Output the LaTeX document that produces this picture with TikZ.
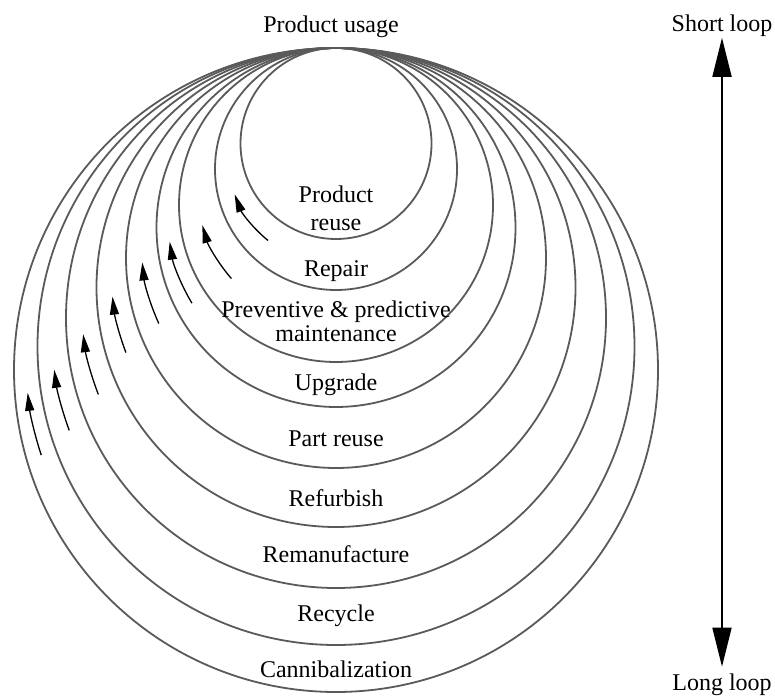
\documentclass[tikz,border=0pt]{standalone}
\usepackage{fontspec}
\setmainfont{Liberation Serif}
\usetikzlibrary{arrows.meta}

\definecolor{ringgray}{HTML}{5A5A5A}

\tikzset{
  ring/.style={draw=ringgray, line width=1.8pt},
  flow/.style={line width=1.3pt, -{Triangle[length=18pt,width=9pt]}},
  looptext/.style={font=\fontsize{24}{28}\selectfont, anchor=base, inner sep=0.5pt, align=center},
  loopscale/.style={line width=1.8pt, {Triangle[length=39pt,width=19pt]}-{Triangle[length=39pt,width=19pt]}, shorten >=6pt}
}

\begin{document}
\begin{tikzpicture}[x=1pt,y=1pt]
  \useasboundingbox (0,0) rectangle (775,695);

  % nested loops, all touching at the top (336,647)
  \draw[ring] (336,551.5) circle (95.5);
  \draw[ring] (336,526) circle (121);
  \draw[ring] (336,490) circle (157);
  \draw[ring] (336,467.5) circle (179.5);
  \draw[ring] (336,437) circle (210);
  \draw[ring] (336,407.5) circle (239.5);
  \draw[ring] (336,377) circle (270);
  \draw[ring] (336,348.5) circle (298.5);
  \draw[ring] (336,325) circle (322);

  % flow arrows between the loops
  \draw[flow] (336,538.75) ++(231.1:108.25) arc[start angle=231.1, end angle=200.6, radius=108.25];
  \draw[flow] (336,508) ++(221.2:139) arc[start angle=221.2, end angle=195.9, radius=139];
  \draw[flow] (336,478.75) ++(211.1:168.25) arc[start angle=211.1, end angle=188.7, radius=168.25];
  \draw[flow] (336,452.25) ++(204.5:194.75) arc[start angle=204.5, end angle=185.8, radius=194.75];
  \draw[flow] (336,422.25) ++(200.8:224.75) arc[start angle=200.8, end angle=186.1, radius=224.75];
  \draw[flow] (336,392.25) ++(201.1:254.75) arc[start angle=201.1, end angle=187.1, radius=254.75];
  \draw[flow] (336,362.75) ++(200.2:284.25) arc[start angle=200.2, end angle=187.6, radius=284.25];
  \draw[flow] (336,336.75) ++(198.2:310.25) arc[start angle=198.2, end angle=186.4, radius=310.25];

  % loop names (two-line ones sit on their last line)
  \node[looptext] (usage) at (331,662) {Product usage};
  \node[looptext] (reuse) at (336,464) {Product\\reuse};
  \node[looptext] (repair) at (336,418) {Repair};
  \node[looptext] (maint) at (336,353) {Preventive \& predictive\\[-4pt]maintenance};
  \node[looptext] (upgrade) at (336,304) {Upgrade};
  \node[looptext] (partreuse) at (336,248) {Part reuse};
  \node[looptext] (refurb) at (336,188) {Refurbish};
  \node[looptext] (reman) at (336,132) {Remanufacture};
  \node[looptext] (recycle) at (336,73) {Recycle};
  \node[looptext] (cannib) at (336,18) {Cannibalization};

  % short / long scale
  \node[looptext] (short) at (722,663) {Short loop};
  \node[looptext] (long) at (722,5) {Long loop};
  \draw[loopscale] (short) -- (long);
\end{tikzpicture}
\end{document}
